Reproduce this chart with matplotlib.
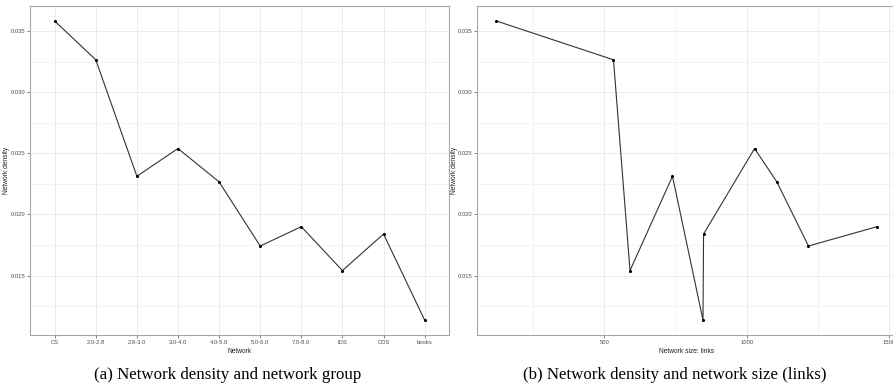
import numpy as np
import matplotlib; matplotlib.use("Agg")
import matplotlib.pyplot as plt
from matplotlib.ticker import MultipleLocator

groups = ["CS", "2.0-2.8", "2.8-3.0", "3.0-4.0", "4.0-5.0", "5.0-6.0", "7.0-8.0", "IDS", "CDS", "books"]
density = [0.03584, 0.03266, 0.02313, 0.02540, 0.02267, 0.01742, 0.01900, 0.01541, 0.01840, 0.01136]
links = [121, 532, 739, 1027, 1105, 1216, 1456, 590, 848, 846]

caption_a = "(a) Network density and network group"
caption_b = "(b) Network density and network size (links)"

W, H = 893, 387
fig = plt.figure(figsize=(W/100, H/100), dpi=100)
sans = "Liberation Sans"
tick_fs, title_fs = 4.2, 4.8
frame_col, grid_col = "#a6a6a6", "#ebebeb"

def px(x0, y0, x1, y1):
    return [x0/W, 1-y1/H, (x1-x0)/W, (y1-y0)/H]

def style(ax):
    for s in ax.spines.values():
        s.set_color(frame_col); s.set_linewidth(0.8)
    ax.grid(True, which="major", color=grid_col, lw=0.7)
    ax.grid(True, which="minor", color=grid_col, lw=0.4)
    ax.set_axisbelow(True)
    ax.tick_params(which="major", length=2, width=0.5, color="#555555", labelsize=tick_fs,
                   labelcolor="#4d4d4d", pad=1.5)
    ax.tick_params(which="minor", length=0)
    for lab in ax.get_xticklabels() + ax.get_yticklabels():
        lab.set_family(sans)
    ax.yaxis.set_major_locator(MultipleLocator(0.005))
    ax.yaxis.set_minor_locator(MultipleLocator(0.0025))
    ax.yaxis.set_major_formatter(plt.FuncFormatter(lambda v, p: "%.3f" % v))
    lo, hi = min(density), max(density); e = 0.05*(hi-lo)
    ax.set_ylim(lo-e, hi+e)
    ax.set_ylabel("Network density", fontsize=title_fs, family=sans, color="#222222", labelpad=0)

# (a) density by group
ax1 = fig.add_axes(px(30, 6, 449.3, 335))
xi = np.arange(len(groups))
ax1.plot(xi, density, color="#333333", lw=0.8, zorder=3)
ax1.scatter(xi, density, s=5, color="black", zorder=4, linewidths=0)
ax1.set_xticks(xi); ax1.set_xticklabels(groups)
ax1.set_xlim(-0.6, len(groups)-1+0.6)
ax1.set_xlabel("Network", fontsize=title_fs, family=sans, color="#222222", labelpad=2)
style(ax1)

# (b) density by links
ax2 = fig.add_axes(px(477.3, 6, 895.9, 335))
order = np.argsort(links, kind="stable")
lx = np.array(links)[order]; dy = np.array(density)[order]
ax2.plot(lx, dy, color="#333333", lw=0.8, zorder=3)
ax2.scatter(lx, dy, s=5, color="black", zorder=4, linewidths=0)
e = 0.05*(max(links)-min(links))
ax2.set_xlim(min(links)-e, max(links)+e)
ax2.xaxis.set_major_locator(MultipleLocator(500))
ax2.xaxis.set_minor_locator(MultipleLocator(250))
ax2.set_xlabel("Network size: links", fontsize=title_fs, family=sans, color="#222222", labelpad=2)
style(ax2)

fig.text(227.8/W, 1-375/H, caption_a, ha="center", va="center", fontsize=12.2, family="Liberation Serif")
fig.text(675/W, 1-375/H, caption_b, ha="center", va="center", fontsize=12.2, family="Liberation Serif")

fig.savefig("out.png", dpi=100)
